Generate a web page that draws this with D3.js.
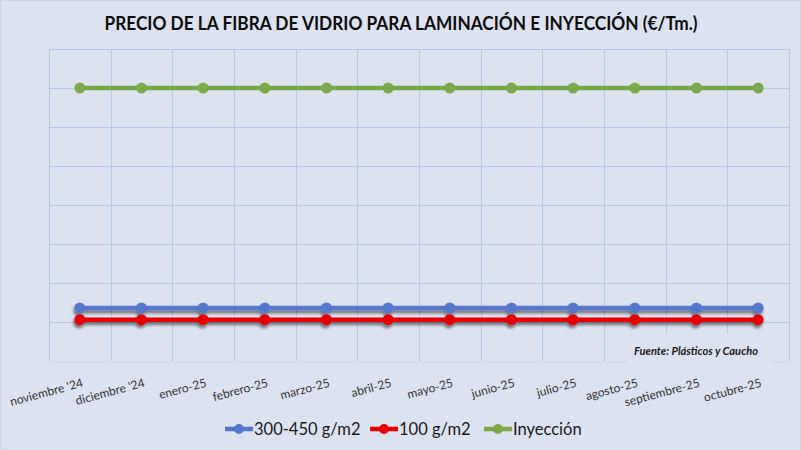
<!DOCTYPE html>
<html>
<head>
<meta charset="utf-8">
<script src="https://cdn.jsdelivr.net/npm/d3@7"></script>
<style>
  html, body { margin: 0; padding: 0; background: #dde2f1; }
  svg { display: block; }
</style>
</head>
<body>
<div id="chart"></div>
<script>
const months = ["noviembre '24", "diciembre '24", "enero-25", "febrero-25", "marzo-25", "abril-25",
  "mayo-25", "junio-25", "julio-25", "agosto-25", "septiembre-25", "octubre-25"];
const seriesNames = ["300-450 g/m2", "100 g/m2", "Inyección"];
const lam300 = [680, 680, 680, 680, 680, 680, 680, 680, 680, 680, 680, 680];
const lam100 = [530, 530, 530, 530, 530, 530, 530, 530, 530, 530, 530, 530];
const inyeccion = [3500, 3500, 3500, 3500, 3500, 3500, 3500, 3500, 3500, 3500, 3500, 3500];
const yTicks = [0, 500, 1000, 1500, 2000, 2500, 3000, 3500, 4000];

const W = 801, H = 450;
const m = {top: 49, right: 12, bottom: 89, left: 49};
const bg = "#dde2f1";
const grid = "#b7c8e8";
const colors = ["#5577cc", "#e60000", "#7aab48"];

const svg = d3.select("#chart").append("svg").attr("width", W).attr("height", H);

const defs = svg.append("defs");
const f = defs.append("filter").attr("id", "shadow")
  .attr("x", "-10%").attr("y", "-50%").attr("width", "120%").attr("height", "200%");
f.append("feDropShadow").attr("dx", -1).attr("dy", 3).attr("stdDeviation", 1.8)
  .attr("flood-color", "#000").attr("flood-opacity", 0.5);

svg.append("rect").attr("x", 0.5).attr("y", 0.5).attr("width", W - 1).attr("height", H - 1)
  .attr("fill", bg).attr("stroke", "#d0d5e4");

const x = d3.scaleBand().domain(months).range([m.left, W - m.right]);
const y = d3.scaleLinear().domain([0, 4000]).range([H - m.bottom, m.top]);

// gridlines
const g = svg.append("g");
g.selectAll("line.h").data(yTicks.slice(1)).join("line").attr("class", "h")
  .attr("x1", m.left).attr("x2", W - m.right)
  .attr("y1", d => Math.round(y(d)) + 0.5).attr("y2", d => Math.round(y(d)) + 0.5)
  .attr("stroke", grid).attr("stroke-width", 1);
const edges = months.map(d => x(d)).concat([x.range()[1]]);
g.selectAll("line.v").data(edges).join("line").attr("class", "v")
  .attr("x1", d => Math.round(d) + 0.5).attr("x2", d => Math.round(d) + 0.5)
  .attr("y1", m.top).attr("y2", H - m.bottom)
  .attr("stroke", grid).attr("stroke-width", 1);

// x axis
const xAxis = svg.append("g").attr("transform", `translate(0,${H - m.bottom + 0.5})`)
  .call(d3.axisBottom(x).tickSize(0).tickPadding(0));
xAxis.select(".domain").attr("stroke", "#d6d6de").attr("stroke-width", 1.2);
xAxis.selectAll("text")
  .attr("font-family", "Lato, 'Open Sans', sans-serif")
  .attr("font-size", 12)
  .attr("fill", "#333")
  .attr("text-anchor", "end")
  .attr("dy", 0)
  .attr("transform", "translate(4,25) rotate(-15)");

// source box
svg.append("rect").attr("x", 626).attr("y", 334).attr("width", 144).attr("height", 30).attr("fill", bg);
svg.append("text").attr("x", 634).attr("y", 355)
  .attr("font-family", "Lato, 'Open Sans', sans-serif").attr("font-size", 10.5)
  .attr("font-weight", "bold").attr("font-style", "italic").attr("fill", "#1a1a1a")
  .attr("textLength", 124).attr("lengthAdjust", "spacingAndGlyphs")
  .text("Fuente: Plásticos y Caucho");

// series
const series = [lam300, lam100, inyeccion];
const line = d3.line().x((d, i) => x(months[i]) + x.bandwidth() / 2).y(d => y(d));
const order = [2, 0, 1];
order.forEach(k => {
  const s = svg.append("g").attr("filter", k < 2 ? "url(#shadow)" : null);
  s.append("path").datum(series[k]).attr("d", line)
    .attr("fill", "none").attr("stroke", colors[k]).attr("stroke-width", 4.5);
  s.selectAll("circle").data(series[k]).join("circle")
    .attr("cx", (d, i) => x(months[i]) + x.bandwidth() / 2).attr("cy", d => y(d))
    .attr("r", 5.5).attr("fill", colors[k]);
});

// title
svg.append("text").attr("x", 401).attr("y", 30).attr("text-anchor", "middle")
  .attr("font-family", "Lato, 'Open Sans', sans-serif").attr("font-size", 18.5)
  .attr("font-weight", "bold").attr("fill", "#0d0d0d")
  .attr("textLength", 593).attr("lengthAdjust", "spacingAndGlyphs")
  .text("PRECIO DE LA FIBRA DE VIDRIO  PARA LAMINACIÓN E INYECCIÓN (€/Tm.)");

// legend
const legX = [225, 370, 484];
const leg = svg.append("g");
seriesNames.forEach((name, k) => {
  const it = leg.append("g").attr("transform", `translate(${legX[k]},429)`);
  it.append("line").attr("x1", 0).attr("x2", 28).attr("y1", 0).attr("y2", 0)
    .attr("stroke", colors[k]).attr("stroke-width", 4.5);
  it.append("circle").attr("cx", 14).attr("cy", 0).attr("r", 5).attr("fill", colors[k]);
  it.append("text").attr("x", 29).attr("y", 6)
    .attr("font-family", "Lato, 'Open Sans', sans-serif").attr("font-size", 16.5)
    .attr("fill", "#1a1a1a").text(name);
});
</script>
</body>
</html>
